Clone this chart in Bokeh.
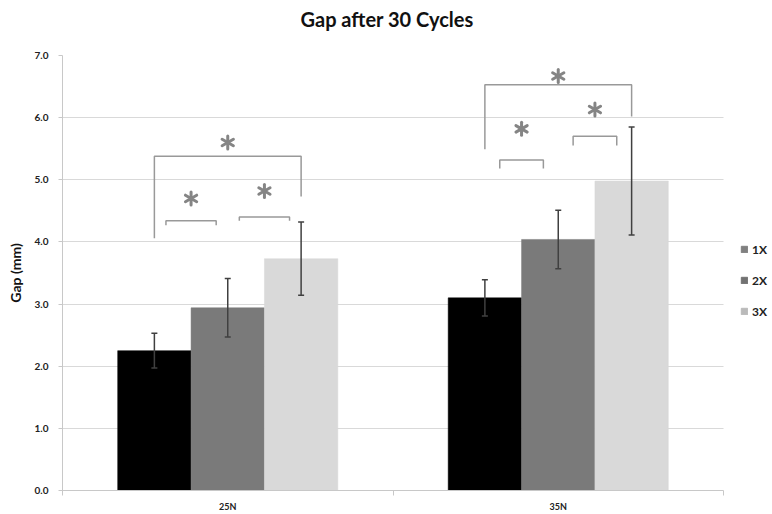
import numpy as np
from bokeh.plotting import figure
from bokeh.models import (ColumnDataSource, Whisker, TeeHead, FixedTicker, Legend,
                          LegendItem, Range1d, NumeralTickFormatter, Title)
from bokeh.embed import file_html
from bokeh.resources import INLINE

# ---- data ----
categories = ["25N", "35N"]
series = ["1X", "2X", "3X"]
gap_1x = [2.25, 3.10]
gap_2x = [2.94, 4.04]
gap_3x = [3.73, 4.98]
err_1x = [0.28, 0.29]
err_2x = [0.47, 0.47]
err_3x = [0.59, 0.87]
y_ticks = [0, 1, 2, 3, 4, 5, 6, 7]

# significance brackets: category index, series from/to, inset, top, leg ends, star height
br_cat = [0, 0, 0, 1, 1, 1]
br_from = [0, 0, 1, 0, 0, 1]
br_to = [2, 1, 2, 2, 1, 2]
br_inset = [0.0, 0.035, 0.035, 0.0, 0.045, 0.045]
br_top = [5.38, 4.34, 4.40, 6.53, 5.32, 5.70]
br_leg_from = [4.06, 4.27, 4.34, 5.49, 5.18, 5.55]
br_leg_to = [4.73, 4.27, 4.34, 6.02, 5.18, 5.55]
star_y = [5.60, 4.70, 4.82, 6.67, 5.82, 6.13]

bar_colors = ["#000000", "#7a7a7a", "#d9d9d9"]
legend_colors = ["#808080", "#727272", "#bababa"]
BAR_W = 0.222
offsets = [-BAR_W, 0.0, BAR_W]

values = [gap_1x, gap_2x, gap_3x]
errors = [err_1x, err_2x, err_3x]

# layout: plotting area 62..723 px, the frame is extended to the right edge so the
# legend (drawn inside the frame) is not clipped
W, H = 772, 514
LEFT, RIGHT_AXIS_END = 62, 723
n_cat = len(categories)
X_END = n_cat * (W - LEFT) / (RIGHT_AXIS_END - LEFT)

p = figure(width=W, height=H, output_backend="svg", toolbar_location=None,
           x_range=Range1d(0, X_END), y_range=Range1d(0, 7),
           min_border_left=LEFT, min_border_right=0, min_border_top=55, min_border_bottom=24)
p.outline_line_color = None
p.background_fill_color = "white"
p.border_fill_color = "white"

# grid
p.xgrid.grid_line_color = None
p.ygrid.ticker = FixedTicker(ticks=y_ticks)
grid = p.ygrid[0]
if "cross_bounds" in grid.properties():
    grid.grid_line_color = "#d9d9d9"
    grid.cross_bounds = (0, n_cat)
else:
    grid.grid_line_color = None
    p.segment(x0=[0] * len(y_ticks), x1=[n_cat] * len(y_ticks), y0=y_ticks, y1=y_ticks,
              line_color="#d9d9d9", line_width=1, level="underlay")

for s in range(3):
    xs = [i + 0.5 + offsets[s] for i in range(n_cat)]
    src = ColumnDataSource(dict(x=xs, top=values[s],
                                upper=[v + e for v, e in zip(values[s], errors[s])],
                                lower=[v - e for v, e in zip(values[s], errors[s])]))
    p.vbar(x="x", top="top", width=BAR_W, source=src, fill_color=bar_colors[s],
           line_color=bar_colors[s], line_width=0.5)
    w = Whisker(base="x", upper="upper", lower="lower", source=src,
                line_color="#404040", line_width=1.5, level="overlay",
                upper_head=TeeHead(size=6, line_color="#404040", line_width=1.5),
                lower_head=TeeHead(size=6, line_color="#404040", line_width=1.5))
    p.add_layout(w)

# brackets
xs_br, ys_br, sx, sy = [], [], [], []
for c, f, t, ins, top, l0, l1, st in zip(br_cat, br_from, br_to, br_inset, br_top,
                                         br_leg_from, br_leg_to, star_y):
    x0 = c + 0.5 + offsets[f] + ins
    x1 = c + 0.5 + offsets[t] - ins
    xs_br.append([x0, x0, x1, x1])
    ys_br.append([l0, top, top, l1])
    sx.append((x0 + x1) / 2)
    sy.append(st)
p.multi_line(xs_br, ys_br, line_color="#999999", line_width=1.5)

# asterisks made of rays
ax, ay, ang = [], [], []
for x, y in zip(sx, sy):
    for a in [90, 30, -30, -90, 150, 210]:
        ax.append(x); ay.append(y); ang.append(np.deg2rad(a))
p.ray(x=ax, y=ay, length=6.5, length_units="screen", angle=ang,
      line_color="#858585", line_width=3, line_cap="round")

# axes
p.yaxis.ticker = FixedTicker(ticks=y_ticks)
p.yaxis.formatter = NumeralTickFormatter(format="0.0")
p.yaxis.axis_line_color = "#c8c8c8"
p.yaxis.major_tick_line_color = "#c8c8c8"
p.yaxis.major_tick_out = 4
p.yaxis.major_tick_in = 0
p.yaxis.minor_tick_line_color = None
p.yaxis.minor_tick_out = 0
p.yaxis.major_label_text_font = "Lato"
p.yaxis.major_label_text_font_style = "bold"
p.yaxis.major_label_text_font_size = "10px"
p.yaxis.major_label_text_color = "#222222"
p.yaxis.major_label_standoff = 10
p.yaxis.axis_label = "Gap (mm)"
p.yaxis.axis_label_text_font = "Lato"
p.yaxis.axis_label_text_font_style = "bold"
p.yaxis.axis_label_text_font_size = "14px"
p.yaxis.axis_label_text_color = "#111111"
p.yaxis.axis_label_standoff = 8

p.xaxis.bounds = (0, n_cat)
p.xaxis.ticker = FixedTicker(ticks=[i + 0.5 for i in range(n_cat)],
                             minor_ticks=list(range(n_cat + 1)))
p.xaxis.major_label_overrides = {i + 0.5: c for i, c in enumerate(categories)}
p.xaxis.axis_line_color = "#c8c8c8"
p.xaxis.major_tick_line_color = None
p.xaxis.major_tick_out = 0
p.xaxis.major_tick_in = 0
p.xaxis.minor_tick_line_color = "#c8c8c8"
p.xaxis.minor_tick_out = 5
p.xaxis.minor_tick_in = 0
p.xaxis.major_label_text_font = "Lato"
p.xaxis.major_label_text_font_style = "bold"
p.xaxis.major_label_text_font_size = "9px"
p.xaxis.major_label_text_color = "#222222"
p.xaxis.major_label_standoff = 5

# title: a blank spacer title next to the frame, the real title above it
p.title.text = ""
TITLE_LEFT_PX = 300
spacer = Title(text=" ", text_font_size="20px", text_line_height=1.0, standoff=1)
main_title = Title(text="Gap after 30 Cycles", align="left",
                   offset=TITLE_LEFT_PX - LEFT,
                   text_font="Lato", text_font_style="bold", text_font_size="20px",
                   text_color="#111111", text_line_height=1.0, standoff=0)
p.add_layout(spacer, "above")
p.add_layout(main_title, "above")

# legend (dummy renderers outside the visible x range carry the legend colours)
items = []
for s in range(3):
    r = p.vbar(x=[-10], top=[1], width=0.1, fill_color=legend_colors[s],
               line_color=legend_colors[s])
    items.append(LegendItem(label=series[s], renderers=[r]))
legend = Legend(items=items, location=(678, 171), orientation="vertical",
                glyph_width=8, glyph_height=8, label_height=16, spacing=15,
                label_standoff=4, padding=0, margin=0,
                label_text_font="Lato", label_text_font_style="bold",
                label_text_font_size="12px", label_text_color="#222222",
                border_line_color=None, background_fill_alpha=0)
p.add_layout(legend)

open("out.html", "w").write(file_html(p, INLINE))
